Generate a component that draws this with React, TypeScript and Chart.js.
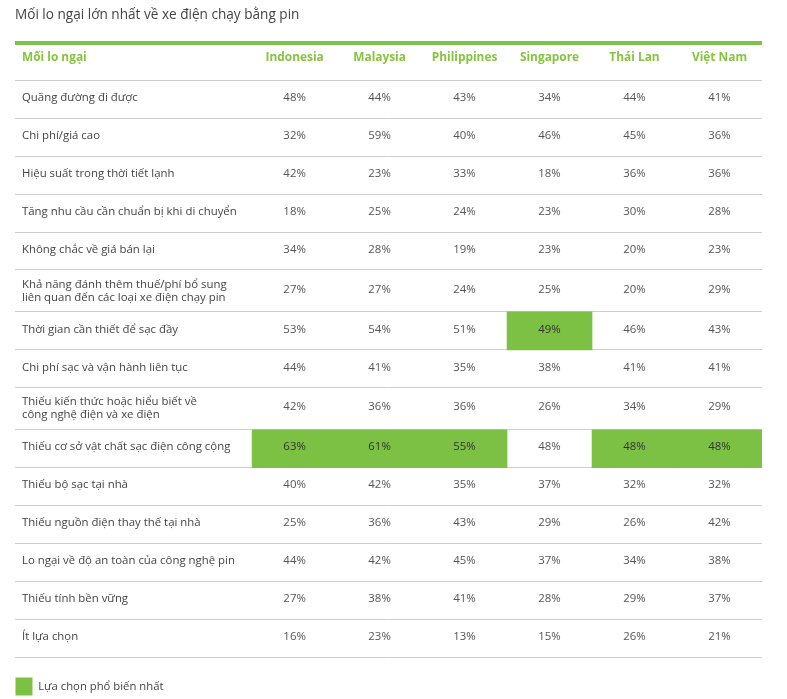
import React, { useEffect, useRef } from "react";
import { Chart, registerables } from "chart.js";

Chart.register(...registerables);

// ---------- data ----------
const chartTitle = "Mối lo ngại lớn nhất về xe điện chạy bằng pin";
const firstHeader = "Mối lo ngại";
const countries = ["Indonesia", "Malaysia", "Philippines", "Singapore", "Thái Lan", "Việt Nam"];
const concerns = [
  "Quãng đường đi được",
  "Chi phí/giá cao",
  "Hiệu suất trong thời tiết lạnh",
  "Tăng nhu cầu cần chuẩn bị khi di chuyển",
  "Không chắc về giá bán lại",
  "Khả năng đánh thêm thuế/phí bổ sung\nliên quan đến các loại xe điện chạy pin",
  "Thời gian cần thiết để sạc đầy",
  "Chi phí sạc và vận hành liên tục",
  "Thiếu kiến thức hoặc hiểu biết về\ncông nghệ điện và xe điện",
  "Thiếu cơ sở vật chất sạc điện công cộng",
  "Thiếu bộ sạc tại nhà",
  "Thiếu nguồn điện thay thế tại nhà",
  "Lo ngại về độ an toàn của công nghệ pin",
  "Thiếu tính bền vững",
  "Ít lựa chọn",
];
const indonesia = [48, 32, 42, 18, 34, 27, 53, 44, 42, 63, 40, 25, 44, 27, 16];
const malaysia = [44, 59, 23, 25, 28, 27, 54, 41, 36, 61, 42, 36, 42, 38, 23];
const philippines = [43, 40, 33, 24, 19, 24, 51, 35, 36, 55, 35, 43, 45, 41, 13];
const singapore = [34, 46, 18, 23, 23, 25, 49, 38, 26, 48, 37, 29, 37, 28, 15];
const thaiLan = [44, 45, 36, 30, 20, 20, 46, 41, 34, 48, 32, 26, 34, 29, 26];
const vietNam = [41, 36, 36, 28, 23, 29, 43, 41, 29, 48, 32, 42, 38, 37, 21];
const legendLabel = "Lựa chọn phổ biến nhất";

const seriesValues = [indonesia, malaysia, philippines, singapore, thaiLan, vietNam];

// ---------- layout / style ----------
const FONT = '"Open Sans", "Noto Sans", sans-serif';
const GREEN_FILL = "#7cc144";
const GREEN_LINE = "#7dc24a";
const GREEN_TEXT = "#86c43f";
const GRID = "#cccccc";
const LABEL_COL = 2.79; // width of the label column, in data-column units
const HEADER_H = 0.99; // header row height, in row units
const TWO_LINE_H = 1.11;

const rowHeights = concerns.map((c) => (c.includes("\n") ? TWO_LINE_H : 1));
const rowStarts: number[] = [];
{
  let acc = 0;
  rowHeights.forEach((h) => {
    rowStarts.push(acc);
    acc += h;
  });
}
const rowEnds = rowStarts.map((s, i) => s + rowHeights[i]);
const tableEnd = rowEnds[rowEnds.length - 1];
const boundaries = [-HEADER_H, 0, ...rowEnds];

// most popular choice = the maximum of each country's column
const topRow = seriesValues.map((vals) => vals.indexOf(Math.max(...vals)));
const highlightData = topRow.map((k, j) => ({ x: j + 0.5, y: [rowStarts[k], rowEnds[k]] }));

const tablePlugin = {
  id: "tableText",
  afterDatasetsDraw(chart: any) {
    const { ctx } = chart;
    const xs = chart.scales.x;
    const ys = chart.scales.y;
    const left = xs.getPixelForValue(-LABEL_COL) + 7;
    ctx.save();
    ctx.textBaseline = "middle";

    // header
    const hy = ys.getPixelForValue(-HEADER_H * 0.6);
    ctx.fillStyle = GREEN_TEXT;
    ctx.font = `bold 11.9px ${FONT}`;
    ctx.textAlign = "left";
    ctx.fillText(firstHeader, left, hy);
    ctx.textAlign = "center";
    countries.forEach((c, j) => ctx.fillText(c, xs.getPixelForValue(j + 0.5), hy));

    // rows
    concerns.forEach((label, i) => {
      const cy = ys.getPixelForValue((rowStarts[i] + rowEnds[i]) / 2);
      ctx.font = `11.4px ${FONT}`;
      ctx.fillStyle = "#444444";
      ctx.textAlign = "left";
      const lines = label.split("\n");
      const lh = 13;
      const shift = lines.length > 1 ? 0 : -1.5;
      lines.forEach((ln, li) => {
        ctx.fillText(ln, left, cy + shift + (li - (lines.length - 1) / 2) * lh);
      });
      ctx.textAlign = "center";
      seriesValues.forEach((vals, j) => {
        ctx.fillStyle = topRow[j] === i ? "#333333" : "#555555";
        ctx.fillText(`${vals[i]}%`, xs.getPixelForValue(j + 0.5), cy - 1.5);
      });
    });
    ctx.restore();
  },
};

export default function App() {
  const ref = useRef<HTMLCanvasElement | null>(null);
  useEffect(() => {
    if (!ref.current) return;
    const chart = new Chart(ref.current, {
      type: "bar",
      data: {
        datasets: [
          {
            label: legendLabel,
            data: highlightData as any,
            backgroundColor: GREEN_FILL,
            borderColor: GREEN_FILL,
            borderWidth: 0,
            barThickness: "flex",
            barPercentage: 1,
            categoryPercentage: 1,
          } as any,
        ],
      },
      options: {
        animation: false,
        responsive: false,
        devicePixelRatio: 1,
        layout: { padding: { left: 15, right: 25, top: 0, bottom: 0 } },
        plugins: {
          title: {
            display: true,
            text: chartTitle,
            align: "start",
            color: "#444444",
            font: { family: FONT, size: 13.6, weight: "normal" },
            padding: { top: 6.5, bottom: 20.2 },
          },
          legend: {
            position: "bottom",
            align: "start",
            maxHeight: 22,
            labels: {
              boxWidth: 17,
              boxHeight: 18,
              padding: 0.5,
              color: "#444444",
              font: { family: FONT, size: 11.3 },
            },
          } as any,
          tooltip: { enabled: false },
        },
        scales: {
          x: {
            type: "linear",
            offset: false,
            min: -LABEL_COL,
            max: countries.length,
            grid: { display: false },
            border: { display: false },
            ticks: { display: false },
            afterFit: (s: any) => {
              s.height = 20;
            },
          },
          y: {
            type: "linear",
            reverse: true,
            min: -HEADER_H,
            max: tableEnd,
            grid: {
              drawTicks: false,
              color: (c: any) => (c.tick && c.tick.value === -HEADER_H ? GREEN_LINE : GRID),
              lineWidth: (c: any) => (c.tick && c.tick.value === -HEADER_H ? 4 : 1),
            },
            border: { display: false },
            ticks: { display: false },
            afterBuildTicks: (s: any) => {
              s.ticks = boundaries.map((v) => ({ value: v }));
            },
            afterFit: (s: any) => {
              s.width = 0;
            },
          },
        },
      } as any,
      plugins: [tablePlugin],
    });
    return () => chart.destroy();
  }, []);
  return (
    <div style={{ position: "fixed", left: 0, top: 0, width: 787, height: 699, background: "#fff" }}>
      <canvas ref={ref} width={787} height={699} />
    </div>
  );
}
